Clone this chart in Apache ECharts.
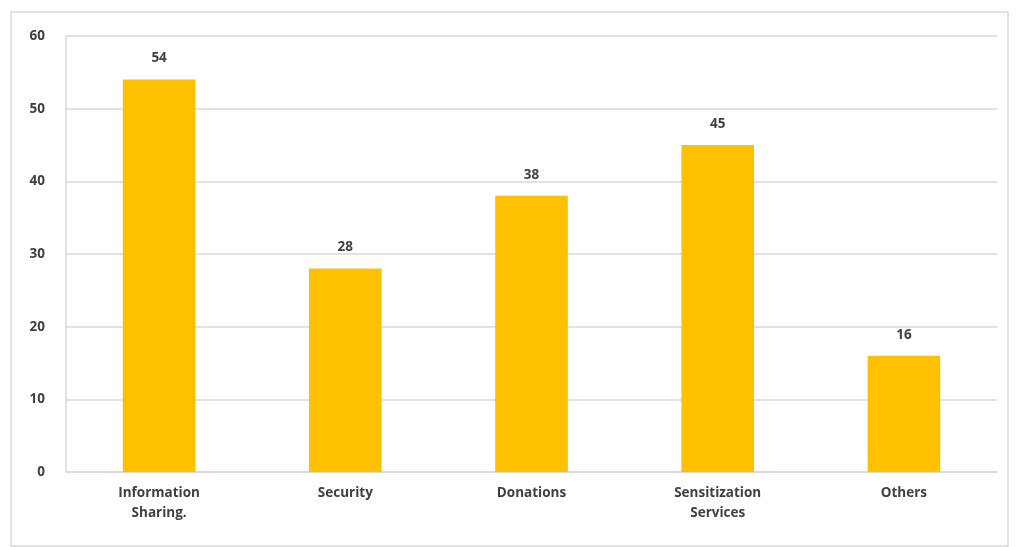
<!DOCTYPE html>
<html>
<head>
<meta charset="utf-8">
<script src="https://cdn.jsdelivr.net/npm/echarts@6/dist/echarts.min.js"></script>
<style>
html,body{margin:0;padding:0;background:#fff;}
#c{width:1018px;height:547px;}
</style>
</head>
<body>
<div id="c"></div>
<script>
const categories = ['Information\nSharing.', 'Security', 'Donations', 'Sensitization\nServices', 'Others'];
const values = [54, 28, 38, 45, 16];
const yTicks = [0, 10, 20, 30, 40, 50, 60];

const chart = echarts.init(document.getElementById('c'));
const font = '"Open Sans", "DejaVu Sans", sans-serif';
chart.setOption({
  animation: false,
  backgroundColor: '#fff',
  graphic: [{
    type: 'rect',
    shape: { x: 11, y: 12, width: 997, height: 534 },
    style: { fill: 'none', stroke: '#d9d9d9', lineWidth: 1.5 },
    silent: true
  }],
  grid: { left: 66, right: 21, top: 36, bottom: 75 },
  xAxis: {
    type: 'category',
    data: categories,
    axisLine: { lineStyle: { color: '#d9d9d9', width: 1.5 } },
    axisTick: { show: false },
    axisLabel: {
      color: '#404040', fontFamily: font, fontWeight: 'bold', fontSize: 13.5,
      lineHeight: 20, margin: 11, interval: 0
    }
  },
  yAxis: {
    type: 'value',
    min: yTicks[0], max: yTicks[yTicks.length - 1], interval: 10,
    axisLine: { show: true, lineStyle: { color: '#d9d9d9', width: 1.5 } },
    axisTick: { show: false },
    splitLine: { lineStyle: { color: '#d9d9d9', width: 1.5 } },
    axisLabel: { color: '#404040', fontFamily: font, fontWeight: 'bold', fontSize: 13.5, margin: 21 }
  },
  series: [{
    type: 'bar',
    data: values,
    barWidth: '39%',
    itemStyle: { color: '#FFC000' },
    label: {
      show: true, position: 'top', distance: 14,
      color: '#404040', fontFamily: font, fontWeight: 'bold', fontSize: 13.5
    }
  }]
});
</script>
</body>
</html>
